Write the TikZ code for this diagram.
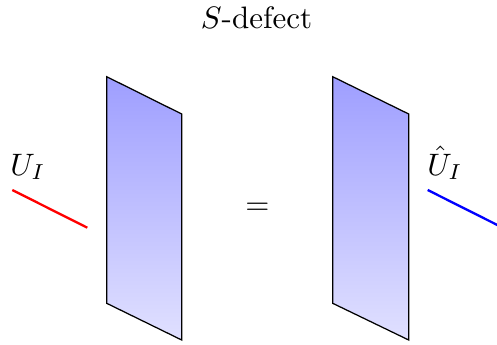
\documentclass[tikz,border=0pt]{standalone}
\begin{document}
\begin{tikzpicture}[x=0.3226pt,y=-0.3226pt,
  panel/.style={draw=black,thin,top color=blue!38,bottom color=blue!12},
  wire/.style={line width=0.75pt}]
\useasboundingbox (0,0) rectangle (497,344);
% title
\node[anchor=base] (title) at (256.5,28.3) {$S$-defect};
% left panel
\path[panel] (106.7,76.7) -- (181.7,114) -- (181.7,340) -- (106.7,303.3) -- cycle;
% right panel
\path[panel] (332.7,76.7) -- (408.7,114) -- (408.7,340) -- (332.7,303.3) -- cycle;
% lines
\coordinate (r1) at (12.3,190);
\coordinate (r2) at (87.3,227.7);
\draw[wire,red] (r1) -- (r2);
\coordinate (b1) at (427.7,190);
\coordinate (b2) at (502.7,227.7);
\draw[wire,blue] (b1) -- (b2);
% labels
\node[anchor=base] (ul) at (28,175) {$U_I$};
\node[anchor=base] (ur) at (445,175) {$\hat{U}_I$};
\node[anchor=base] (eq) at (257.5,214.4) {$=$};
\end{tikzpicture}
\end{document}
